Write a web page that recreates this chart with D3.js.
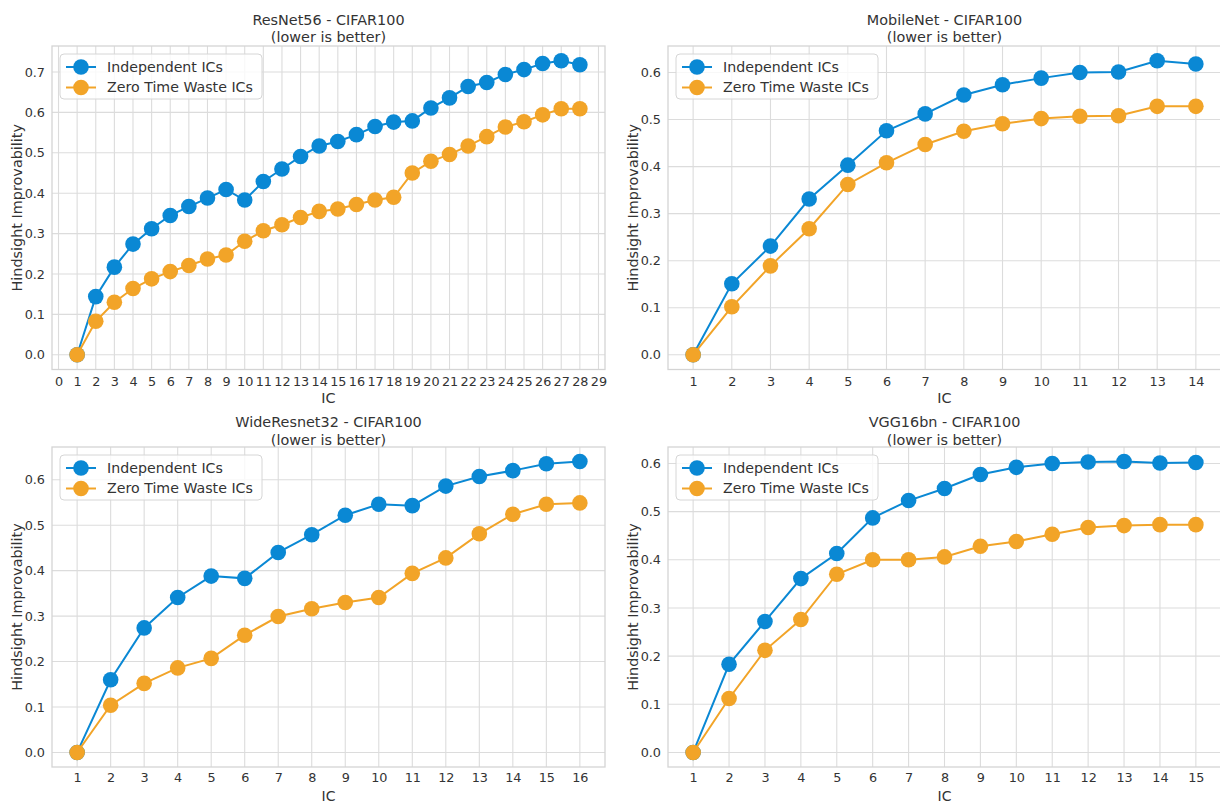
<!DOCTYPE html>
<html><head><meta charset="utf-8">
<script src="https://cdn.jsdelivr.net/npm/d3@7"></script>
<style>
body{margin:0;background:#fff;}
svg{display:block;}
text{font-family:"DejaVu Sans",sans-serif;fill:#333;}
</style>
</head><body><svg id="chart" width="1220" height="805"></svg>
<script>
// ---- data ----
const seriesNames = ["Independent ICs", "Zero Time Waste ICs"];
const seriesColors = ["#0a88d4", "#f2a428"];

const resnetTitle = ["ResNet56 - CIFAR100", "(lower is better)"];
const resnetIC = [1,2,3,4,5,6,7,8,9,10,11,12,13,14,15,16,17,18,19,20,21,22,23,24,25,26,27,28];
const resnetIndependent = [0,0.144,0.217,0.274,0.312,0.345,0.367,0.388,0.409,0.383,0.429,0.460,0.491,0.517,0.528,0.545,0.565,0.576,0.579,0.611,0.636,0.664,0.674,0.694,0.706,0.721,0.728,0.718];
const resnetZTW = [0,0.083,0.130,0.164,0.188,0.206,0.221,0.237,0.247,0.281,0.307,0.322,0.340,0.355,0.361,0.372,0.383,0.390,0.450,0.479,0.496,0.517,0.540,0.564,0.577,0.594,0.609,0.609];
const resnetXTicks = [0,1,2,3,4,5,6,7,8,9,10,11,12,13,14,15,16,17,18,19,20,21,22,23,24,25,26,27,28,29];
const resnetYTicks = [0,0.1,0.2,0.3,0.4,0.5,0.6,0.7];

const mobileTitle = ["MobileNet - CIFAR100", "(lower is better)"];
const mobileIC = [1,2,3,4,5,6,7,8,9,10,11,12,13,14];
const mobileIndependent = [0,0.151,0.231,0.331,0.403,0.476,0.512,0.552,0.574,0.588,0.600,0.601,0.625,0.618];
const mobileZTW = [0,0.102,0.189,0.268,0.362,0.408,0.447,0.475,0.491,0.502,0.507,0.508,0.528,0.528];
const mobileXTicks = [1,2,3,4,5,6,7,8,9,10,11,12,13,14];
const mobileYTicks = [0,0.1,0.2,0.3,0.4,0.5,0.6];

const wideTitle = ["WideResnet32 - CIFAR100", "(lower is better)"];
const wideIC = [1,2,3,4,5,6,7,8,9,10,11,12,13,14,15,16];
const wideIndependent = [0,0.160,0.274,0.341,0.388,0.383,0.440,0.479,0.522,0.546,0.543,0.586,0.607,0.620,0.635,0.640];
const wideZTW = [0,0.104,0.152,0.186,0.207,0.258,0.299,0.316,0.330,0.341,0.394,0.428,0.481,0.524,0.546,0.549];
const wideXTicks = [1,2,3,4,5,6,7,8,9,10,11,12,13,14,15,16];
const wideYTicks = [0,0.1,0.2,0.3,0.4,0.5,0.6];

const vggTitle = ["VGG16bn - CIFAR100", "(lower is better)"];
const vggIC = [1,2,3,4,5,6,7,8,9,10,11,12,13,14,15];
const vggIndependent = [0,0.183,0.272,0.361,0.413,0.487,0.523,0.548,0.577,0.592,0.600,0.603,0.604,0.601,0.602];
const vggZTW = [0,0.112,0.212,0.276,0.370,0.400,0.400,0.406,0.428,0.438,0.453,0.467,0.471,0.473,0.473];
const vggXTicks = [1,2,3,4,5,6,7,8,9,10,11,12,13,14,15];
const vggYTicks = [0,0.1,0.2,0.3,0.4,0.5,0.6];

const xLabel = "IC";
const yLabel = "Hindsight Improvability";

// ---- layout ----
const W = 553;
const panels = [
  {title: resnetTitle, ic: resnetIC, series: [resnetIndependent, resnetZTW], xt: resnetXTicks, yt: resnetYTicks, left: 52, top: 46, h: 323.5, t1: 19.5, t2: 37, pad: 7.5, xl: 402.5, xls: 14.4},
  {title: mobileTitle, ic: mobileIC, series: [mobileIndependent, mobileZTW], xt: mobileXTicks, yt: mobileYTicks, left: 668, top: 46, h: 323.5, t1: 19.5, t2: 37, pad: 7.5, xl: 402.5, xls: 14.4},
  {title: wideTitle, ic: wideIC, series: [wideIndependent, wideZTW], xt: wideXTicks, yt: wideYTicks, left: 52, top: 447, h: 320, t1: 422, t2: 439.5, pad: 6, xl: 801, xls: 14},
  {title: vggTitle, ic: vggIC, series: [vggIndependent, vggZTW], xt: vggXTicks, yt: vggYTicks, left: 668, top: 447, h: 320, t1: 422, t2: 439.5, pad: 6, xl: 801, xls: 14}
];
const svg = d3.select("#chart");

panels.forEach(p => {
  const H = p.h;
  const g = svg.append("g");
  const xe = d3.extent(p.ic), xr = xe[1] - xe[0];
  const allY = p.series.flat();
  const ye = d3.extent(allY), yr = ye[1] - ye[0];
  const x = d3.scaleLinear().domain([xe[0] - 0.05 * xr, xe[1] + 0.05 * xr]).range([p.left, p.left + W]);
  const y = d3.scaleLinear().domain([ye[0] - 0.05 * yr, ye[1] + 0.05 * yr]).range([p.top + H, p.top]);

  // grid
  g.append("g").selectAll("line").data(p.xt).join("line")
    .attr("x1", d => x(d)).attr("x2", d => x(d))
    .attr("y1", p.top).attr("y2", p.top + H)
    .attr("stroke", "#dcdcdc").attr("stroke-width", 1.1);
  g.append("g").selectAll("line").data(p.yt).join("line")
    .attr("y1", d => y(d)).attr("y2", d => y(d))
    .attr("x1", p.left).attr("x2", p.left + W)
    .attr("stroke", "#dcdcdc").attr("stroke-width", 1.1);
  // frame
  g.append("rect").attr("x", p.left).attr("y", p.top).attr("width", W).attr("height", H)
    .attr("fill", "none").attr("stroke", "#d4d4d4").attr("stroke-width", 1.3);

  // axes
  const xa = g.append("g").attr("transform", `translate(0,${p.top + H})`)
    .call(d3.axisBottom(x).tickValues(p.xt).tickSize(0).tickPadding(p.pad).tickFormat(d3.format("d")));
  const ya = g.append("g").attr("transform", `translate(${p.left},0)`)
    .call(d3.axisLeft(y).tickValues(p.yt).tickSize(0).tickPadding(7).tickFormat(d3.format(".1f")));
  [xa, ya].forEach(a => {
    a.select(".domain").remove();
    a.selectAll("text").attr("font-family", "DejaVu Sans").attr("font-size", 12.8).attr("fill", "#333");
  });

  // labels
  g.append("text").attr("x", p.left + W / 2).attr("y", p.xl)
    .attr("text-anchor", "middle").attr("font-size", p.xls).text(xLabel);
  g.append("text").attr("transform", `translate(${p.left - 35},${p.top + H / 2}) rotate(-90)`)
    .attr("dy", "0.35em").attr("text-anchor", "middle").attr("font-size", 14.4).text(yLabel);
  g.append("text").attr("x", p.left + W / 2).attr("y", p.t1).attr("dy", "0.35em")
    .attr("text-anchor", "middle").attr("font-size", 14.4).text(p.title[0]);
  g.append("text").attr("x", p.left + W / 2).attr("y", p.t2).attr("dy", "0.35em")
    .attr("text-anchor", "middle").attr("font-size", 14.4).text(p.title[1]);

  // series
  p.series.forEach((vals, si) => {
    const pts = p.ic.map((c, i) => [c, vals[i]]);
    g.append("path").datum(pts)
      .attr("d", d3.line().x(d => x(d[0])).y(d => y(d[1])))
      .attr("fill", "none").attr("stroke", seriesColors[si]).attr("stroke-width", 2);
    g.append("g").selectAll("circle").data(pts).join("circle")
      .attr("cx", d => x(d[0])).attr("cy", d => y(d[1])).attr("r", 7.8)
      .attr("fill", seriesColors[si]);
  });

  // legend
  const lg = g.append("g").attr("transform", `translate(${p.left + 8},${p.top + 8})`);
  lg.append("rect").attr("width", 202).attr("height", 45).attr("rx", 4)
    .attr("fill", "#fff").attr("fill-opacity", 0.8).attr("stroke", "#d6d6d6").attr("stroke-width", 1);
  seriesNames.forEach((name, si) => {
    const yy = 13 + si * 20.5;
    lg.append("line").attr("x1", 6).attr("x2", 36).attr("y1", yy).attr("y2", yy)
      .attr("stroke", seriesColors[si]).attr("stroke-width", 2);
    lg.append("circle").attr("cx", 21).attr("cy", yy).attr("r", 7.8).attr("fill", seriesColors[si]);
    lg.append("text").attr("x", 47).attr("y", yy).attr("dy", "0.35em")
      .attr("font-size", 14.2).text(name);
  });
});
</script>
</body></html>
